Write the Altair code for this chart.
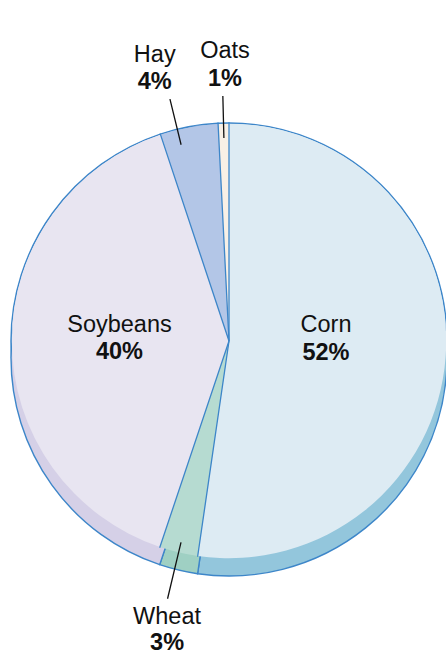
import math
import altair as alt
import pandas as pd

# ---- data ----
names = ["Corn", "Wheat", "Soybeans", "Hay", "Oats"]
values = [52.3, 2.85, 39.75, 4.3, 0.8]

# ---- styles ----
top_colors = ["#ddebf3", "#b6dbd1", "#e8e5f1", "#b3c6e7", "#f8f0e6"]
side_colors = ["#93c6dc", "#9fd0c3", "#d5d0e7", "#97aed6", "#e8dccc"]
EDGE = "#3d86c9"
INK = "#111111"
FONT = "Liberation Sans"
FS = 23.5
R = 218
DEPTH = 17

# label placement styles: radius, offsets, leader radii, angle nudge (in % units)
LABELS = {
    "Corn": dict(r=97.25, dx=0, dy1=-16.3, dy2=12, nudge=0, leader=None),
    "Soybeans": dict(r=109.5, dx=0, dy1=-9.1, dy2=18.5, nudge=0, leader=None),
    "Hay": dict(r=290, dx=-5.5, dy1=2.4, dy2=30, nudge=-0.86, leader=(202, 249)),
    "Oats": dict(r=280, dx=3, dy1=-2.8, dy2=24.9, nudge=0, leader=(203, 245)),
    "Wheat": dict(r=280, dx=3, dy1=10.2, dy2=36.8, nudge=0, leader=(207, 265)),
}

ends = list(pd.Series(values).cumsum())
starts = [e - v for e, v in zip(ends, values)]
mids = [s + v / 2 for s, v in zip(starts, values)]
df = pd.DataFrame({"name": names, "value": values, "start": starts, "end": ends, "mid": mids})

theta_scale = alt.Scale(type="linear", domain=[0, 100], range=[0, 2 * math.pi], nice=False, zero=False)


def th(field):
    return alt.Theta(f"{field}:Q", scale=theta_scale, stack=None)


def col(rng):
    return alt.Color("name:N", scale=alt.Scale(domain=names, range=rng), legend=None)


base = alt.Chart(df)

outline = base.mark_arc(radius=R, stroke=EDGE, strokeWidth=1.4).encode(
    theta=th("start"), theta2=alt.Theta2("end:Q"), color=col(top_colors)
)
side = base.mark_arc(radius=R, yOffset=DEPTH, stroke=EDGE, strokeWidth=1.4).encode(
    theta=th("start"), theta2=alt.Theta2("end:Q"), color=col(side_colors)
)
face = base.mark_arc(radius=R - 0.8, strokeWidth=0).encode(
    theta=th("start"), theta2=alt.Theta2("end:Q"), color=col(top_colors)
)
seps = base.mark_arc(radius=R, stroke=EDGE, strokeWidth=1.3, fillOpacity=0).encode(
    theta=th("start"), theta2=alt.Theta2("start:Q")
)

layers = [outline, side, face, seps]

for n, st in LABELS.items():
    sub = base.transform_filter(alt.datum.name == n).transform_calculate(
        at=f"datum.mid + ({st['nudge']})",
        pct="format(datum.value, '.0f') + '%'",
    )
    if st["leader"] is not None:
        r0, r1 = st["leader"]
        layers.append(
            sub.mark_arc(innerRadius=r0, radius=r1, stroke=INK, strokeWidth=1.3, fillOpacity=0).encode(
                theta=th("at"), theta2=alt.Theta2("at:Q")
            )
        )
    layers.append(
        sub.mark_text(radius=st["r"], dx=st["dx"], dy=st["dy1"], font=FONT, fontSize=FS,
                      align="center", baseline="alphabetic", color=INK).encode(
            theta=th("at"), text="name:N"
        )
    )
    layers.append(
        sub.mark_text(radius=st["r"], dx=st["dx"], dy=st["dy2"], font=FONT, fontSize=FS,
                      fontWeight="bold", align="center", baseline="alphabetic", color=INK).encode(
            theta=th("at"), text="pct:N"
        )
    )

chart = (
    alt.layer(*layers)
    .resolve_scale(color="independent")
    .properties(
        width=434,
        height=628,
        padding={"left": 12, "top": 27, "right": 0, "bottom": 0},
        autosize=alt.AutoSizeParams(type="none"),
        background="white",
    )
    .configure_view(stroke=None)
)

chart.save("out.html", embed_options={"renderer": "svg", "actions": False})
